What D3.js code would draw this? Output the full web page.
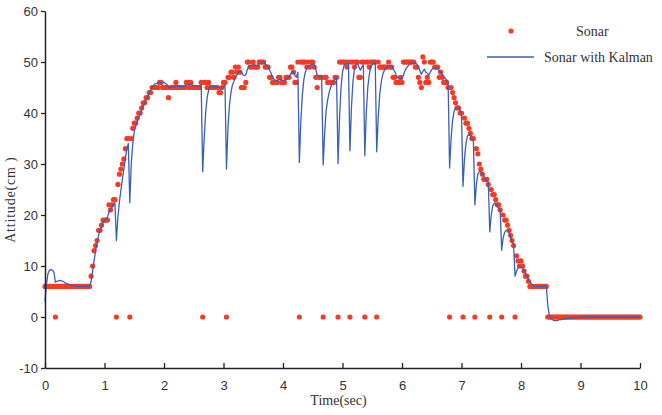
<!DOCTYPE html>
<html>
<head>
<meta charset="utf-8">
<script src="https://cdn.jsdelivr.net/npm/d3@7"></script>
<style>
  html, body { margin: 0; padding: 0; background: #fff; }
  svg { display: block; }
</style>
</head>
<body>
<svg id="chart" width="662" height="415"></svg>
<script>
// ---- data ----
const sampleStep = 0.025; // seconds between sonar samples (time of sample i = i * step)

const xTicks = [0, 1, 2, 3, 4, 5, 6, 7, 8, 9, 10];
const yTicks = [-10, 0, 10, 20, 30, 40, 50, 60];

const seriesNames = ["Sonar", "Sonar with Kalman"];

// raw sonar readings (cm), one row per second
const sonar = [
  6,6,6,6,6,6,6,0,6,6, 6,6,6,6,6,6,6,6,6,6, 6,6,6,6,6,6,6,6,6,6, 6,8,10,13,14,15,17,17,18,19,
  19,19,19,22,21,22,23,23,0,26, 28,29,30,31,33,35,35,0,35,37, 38,38,39,40,40,41,42,42,43,43, 44,44,45,45,45,45,45,46,46,45,
  45,45,45,43,45,45,45,45,46,45, 45,45,45,45,45,46,46,45,46,45, 45,45,45,45,45,46,0,46,46,45, 46,45,45,45,45,45,45,44,44,45,
  46,46,0,47,47,48,48,47,49,48, 49,48,45,45,45,46,50,50,49,49, 50,49,49,49,50,50,50,50,49,49, 49,47,47,46,46,46,46,47,47,46,
  46,46,47,47,47,49,49,48,46,46, 50,0,50,50,50,50,49,50,49,50, 50,49,47,45,47,47,47,0,47,47, 46,46,46,46,46,47,47,0,50,50,
  50,50,50,49,50,0,50,50,49,50, 50,47,47,50,50,0,50,50,49,50, 50,50,50,0,50,49,49,49,49,49, 49,50,49,49,47,47,46,46,46,47,
  46,50,50,50,50,50,50,50,50,49, 49,47,46,45,51,50,46,47,46,50, 50,50,49,49,49,47,48,47,46,46, 46,45,0,45,44,43,42,41,41,40,
  40,0,39,38,38,37,36,35,35,0, 33,32,30,29,28,27,27,27,26,0, 25,24,24,23,22,22,21,0,20,19, 19,18,17,16,15,14,0,12,11,10,
  11,10,9,8,8,7,6,6,6,6, 6,6,6,6,6,6,6,6,0,0, 0,0,0,0,0,0,0,0,0,0, 0,0,0,0,0,0,0,0,0,0,
  0,0,0,0,0,0,0,0,0,0, 0,0,0,0,0,0,0,0,0,0, 0,0,0,0,0,0,0,0,0,0, 0,0,0,0,0,0,0,0,0,0,
  0
];

// Kalman-filtered sonar (cm), same sample times
const kalman = [
  3,6.5,8.5,9.2,9.3,9.2,8.8,6.8,7.0,7.1, 7.2,7.1,7.0,6.8,6.6,6.5,6.4,6.3,6.2,6.2, 6.1,6,6,6,6,6,6,6,6,6, 6,7,9,11,13,14.5,16,17,17.8,18.6,
  18.8,19.2,19.6,20.5,21,21.5,22,22.4,15,19.5, 22.5,24.8,27,29,31,33,34,22.4,30,34, 36.3,37.5,38.4,39.2,39.8,40.6,41.4,42,42.6,43.2, 43.8,44.4,45,45.4,45.7,45.8,45.8,45.9,46,46,
  46,45.8,45.6,45,45,45,45.1,45.1,45.3,45.3, 45.2,45.2,45.2,45.2,45.2,45.4,45.6,45.5,45.6,45.5, 45.4,45.3,45.3,45.3,45.3,45.5,28.5,35,40,43, 44.5,45.2,45.2,45.1,45.1,45.1,45.1,45,44.7,44.9,
  45.2,45.5,29,37,41.5,44,45.5,46.2,47,47.4, 48,48.3,48,47.5,47.3,47.5,48.5,49.2,49.3,49.3, 49.5,49.4,49.3,49.3,49.6,49.8,49.9,50,49.6,49.4, 49.2,48.4,47.8,47,46.6,46.4,46.3,46.5,46.7,46.5,
  46.4,46.4,46.6,46.8,47,47.6,48,48,47.4,47, 48,30.3,38.5,43.5,46.5,48,48.8,49.3,49.2,49.5, 49.6,49.4,48.6,47.4,47.3,47.2,47.1,29.8,36,40.5, 42.5,44,45,45.8,46.3,46.7,47,30.1,39,45,
  48,49.3,49.6,49.6,49.8,32.6,41,46,48.5,49.5, 49.8,49,48.4,49,49.4,31.6,40,45,47.5,49, 49.5,49.8,50,32.4,39,43.5,46,47.5,48.3,48.8, 49,49.3,49.3,49.2,48.6,48.2,47.5,47,46.7,46.8,
  46.6,47.5,48.3,48.8,49.2,49.5,49.7,49.8,49.9,49.8, 49.6,49,48.3,47.6,48.2,48.6,48,47.8,47.4,48, 48.5,48.8,48.8,48.8,48.8,48.2,48,47.7,47.2,46.8, 46.5,46,29.2,35,38.5,40.3,41,41,41,40.5,
  40,25.6,31,34,35.5,35.8,35.6,35,34.5,22, 26,28,28.5,28.5,28,27.5,27,26.8,26.5,16.7, 20,21.8,22.3,22.3,21.8,21.3,21,13.1,15.5,16.6, 17,17,16.5,15.5,14.8,14.2,8,9,9.6,9.8,
  9.8,9.6,9.2,8.6,8,7.5,7,6.5,6.2,6, 6,6,6,6,6,6,6,6,2.3,0.4, -0.2,-0.5,-0.7,-0.7,-0.7,-0.6,-0.5,-0.5,-0.4,-0.4, -0.3,-0.3,-0.3,-0.2,-0.2,-0.2,-0.1,-0.1,-0.1,-0.1,
  0,0,0,0,0,0,0,0,0,0, 0,0,0,0,0,0,0,0,0,0, 0,0,0,0,0,0,0,0,0,0, 0,0,0,0,0,0,0,0,0,0,
  0
];

// ---- drawing ----
const svg = d3.select("#chart");
const W = 662, H = 415;
const margin = { left: 45, right: 22, top: 11, bottom: 47 };

svg.append("rect").attr("width", W).attr("height", H).attr("fill", "#fff");

const x = d3.scaleLinear().domain([0, 10]).range([margin.left, W - margin.right]);
const y = d3.scaleLinear().domain([-10, 60]).range([H - margin.bottom, margin.top]);

const dotColor = "#f63b24";
const lineColor = "#3b5fb4";
const axisColor = "#222";
const plainInt = d => String(d); // hyphen-minus like the reference

// sonar dots
svg.append("g")
  .selectAll("circle")
  .data(sonar)
  .join("circle")
  .attr("cx", (d, i) => x(i * sampleStep))
  .attr("cy", d => y(d))
  .attr("r", 2.6)
  .attr("fill", dotColor);

// Kalman line
const line = d3.line()
  .x((d, i) => x(i * sampleStep))
  .y(d => y(d));

svg.append("path")
  .datum(kalman)
  .attr("d", line)
  .attr("fill", "none")
  .attr("stroke", lineColor)
  .attr("stroke-width", 1.3)
  .attr("stroke-linejoin", "round");

// axes
const xAxis = d3.axisBottom(x).tickValues(xTicks).tickFormat(plainInt).tickSizeInner(-5).tickSizeOuter(0).tickPadding(13);
const yAxis = d3.axisLeft(y).tickValues(yTicks).tickFormat(plainInt).tickSizeInner(4).tickSizeOuter(0).tickPadding(3);

const gx = svg.append("g").attr("transform", `translate(0,${H - margin.bottom})`).call(xAxis);
const gy = svg.append("g").attr("transform", `translate(${margin.left},0)`).call(yAxis);

[gx, gy].forEach(g => {
  g.select(".domain").attr("stroke", axisColor).attr("stroke-width", 1.5);
  g.selectAll(".tick line").attr("stroke", axisColor).attr("stroke-width", 1.3);
  g.selectAll(".tick text")
    .attr("fill", "#333")
    .style("font-family", "'Liberation Sans', Arial, sans-serif")
    .style("font-size", "13px");
});
gy.selectAll(".tick text").attr("dy", "0.35em");

// axis titles
svg.append("text")
  .attr("x", x(5) - 4)
  .attr("y", 405)
  .attr("text-anchor", "middle")
  .attr("fill", "#333")
  .style("font-family", "'Liberation Serif', 'Times New Roman', serif")
  .style("font-size", "14px")
  .text("Time(sec)");

svg.append("text")
  .attr("transform", `translate(15,${y(23)}) rotate(-90)`)
  .attr("text-anchor", "middle")
  .attr("fill", "#333")
  .style("font-family", "'Liberation Serif', 'Times New Roman', serif")
  .style("font-size", "14px")
  .style("letter-spacing", "0.8px")
  .text("Attitude(cm )");

// legend
const legend = svg.append("g")
  .style("font-family", "'Liberation Serif', 'Times New Roman', serif")
  .style("font-size", "14px");

legend.append("circle").attr("cx", 511).attr("cy", 31).attr("r", 2.6).attr("fill", dotColor);
legend.append("text").attr("x", 576).attr("y", 36).attr("fill", "#333").text(seriesNames[0]);

legend.append("line").attr("x1", 487).attr("x2", 534).attr("y1", 57).attr("y2", 57)
  .attr("stroke", lineColor).attr("stroke-width", 1.3);
legend.append("text").attr("x", 544).attr("y", 62).attr("fill", "#333").text(seriesNames[1]);
</script>
</body>
</html>
